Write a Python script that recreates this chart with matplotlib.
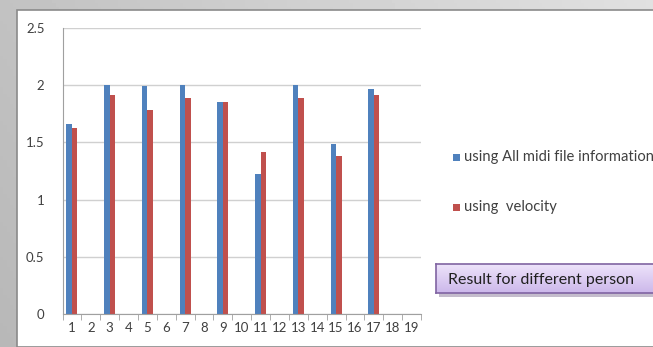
import matplotlib
matplotlib.use('Agg')
import matplotlib.pyplot as plt
import numpy as np
from matplotlib.patches import Rectangle

plt.rcParams['font.family'] = ['Lato', 'DejaVu Sans']

# ---- data ----
persons = list(range(1, 20))
all_midi = [1.66, 0, 2.0, 0, 1.99, 0, 2.0, 0, 1.85, 0, 1.22, 0, 2.0, 0, 1.49, 0, 1.97, 0, 0]
velocity = [1.63, 0, 1.91, 0, 1.78, 0, 1.89, 0, 1.85, 0, 1.42, 0, 1.89, 0, 1.38, 0, 1.91, 0, 0]
series_names = ['using All midi file information', 'using  velocity']
box_text = 'Result for different person'

blue = '#4f81bd'
red = '#c0504d'
W, H = 653, 347

fig = plt.figure(figsize=(W / 100, H / 100), dpi=100)

# gray gradient background
bg = fig.add_axes([0, 0, 1, 1])
gy, gx = np.mgrid[0:1:100j, 0:1:200j]
grad = 0.72 + 0.12 * gx + 0.04 * (1 - gy)
bg.imshow(grad, cmap='gray', vmin=0, vmax=1, aspect='auto', extent=[0, 1, 0, 1])
bg.set_xlim(0, 1)
bg.set_ylim(0, 1)
bg.axis('off')

# white slide panel
bg.add_patch(Rectangle((17 / W, 0), 1, 1 - 10 / H, facecolor='white',
                       edgecolor='#8a8a8a', linewidth=1.2))
# shadow under the caption box
bg.add_patch(Rectangle((439 / W, 1 - 297 / H), 230 / W, 30 / H, facecolor='#c4bccc',
                       edgecolor='none'))

# chart
ax = fig.add_axes([62.5 / W, 1 - 314 / H, (421 - 62.5) / W, (314 - 28) / H])
x = np.arange(len(persons))
bw = 0.29
ax.bar(x - bw / 2, all_midi, bw, color=blue, label=series_names[0])
ax.bar(x + bw / 2, velocity, bw, color=red, label=series_names[1])

ax.set_xlim(-0.5, len(persons) - 0.5)
ax.set_ylim(0, 2.5)
ax.set_yticks([0, 0.5, 1, 1.5, 2, 2.5])
ax.set_yticklabels(['0', '0.5', '1', '1.5', '2', '2.5'])
ax.yaxis.grid(True, color='#d0d0d0', linewidth=1)
ax.set_axisbelow(True)
for s in ['top', 'right']:
    ax.spines[s].set_visible(False)
ax.spines['left'].set_color('#a0a0a0')
ax.spines['bottom'].set_color('#a0a0a0')
ax.tick_params(axis='y', length=0, pad=13, labelsize=9.5, labelcolor='#404040')

# category labels at centres, tick marks at boundaries
ax.set_xticks(x)
ax.set_xticklabels([str(p) for p in persons])
ax.set_xticks(np.arange(-0.5, len(persons)), minor=True)
ax.tick_params(axis='x', which='major', length=0, pad=6, labelsize=9.5, labelcolor='#404040')
ax.tick_params(axis='x', which='minor', length=4, color='#a0a0a0', direction='out')

# legend drawn by hand so the text runs off the panel edge
fig.patches.append(Rectangle((453 / W, 1 - 161 / H), 7 / W, 7 / H, facecolor=blue,
                             transform=fig.transFigure))
fig.text(464 / W, 1 - 157 / H, series_names[0], fontsize=10.6, color='#404040', va='center')
fig.patches.append(Rectangle((453 / W, 1 - 211 / H), 7 / W, 7 / H, facecolor=red,
                             transform=fig.transFigure))
fig.text(464 / W, 1 - 207 / H, series_names[1], fontsize=10.6, color='#404040', va='center')

# purple caption box
box_ax = fig.add_axes([436 / W, 1 - 293 / H, 230 / W, 29 / H])
bgy = np.linspace(0, 1, 50).reshape(-1, 1)
top_c = np.array([0.93, 0.89, 0.98])
bot_c = np.array([0.80, 0.72, 0.92])
box_ax.imshow(top_c + (bot_c - top_c) * bgy[:, :, None] * np.ones((1, 2, 1)),
              aspect='auto', extent=[0, 1, 0, 1])
box_ax.set_xticks([])
box_ax.set_yticks([])
for s in box_ax.spines.values():
    s.set_color('#8064a2')
    s.set_linewidth(1.2)
box_ax.text(12 / 230, 0.45, box_text, fontsize=11.5, color='#202020', va='center',
            transform=box_ax.transAxes)

fig.savefig('out.png', dpi=100)
